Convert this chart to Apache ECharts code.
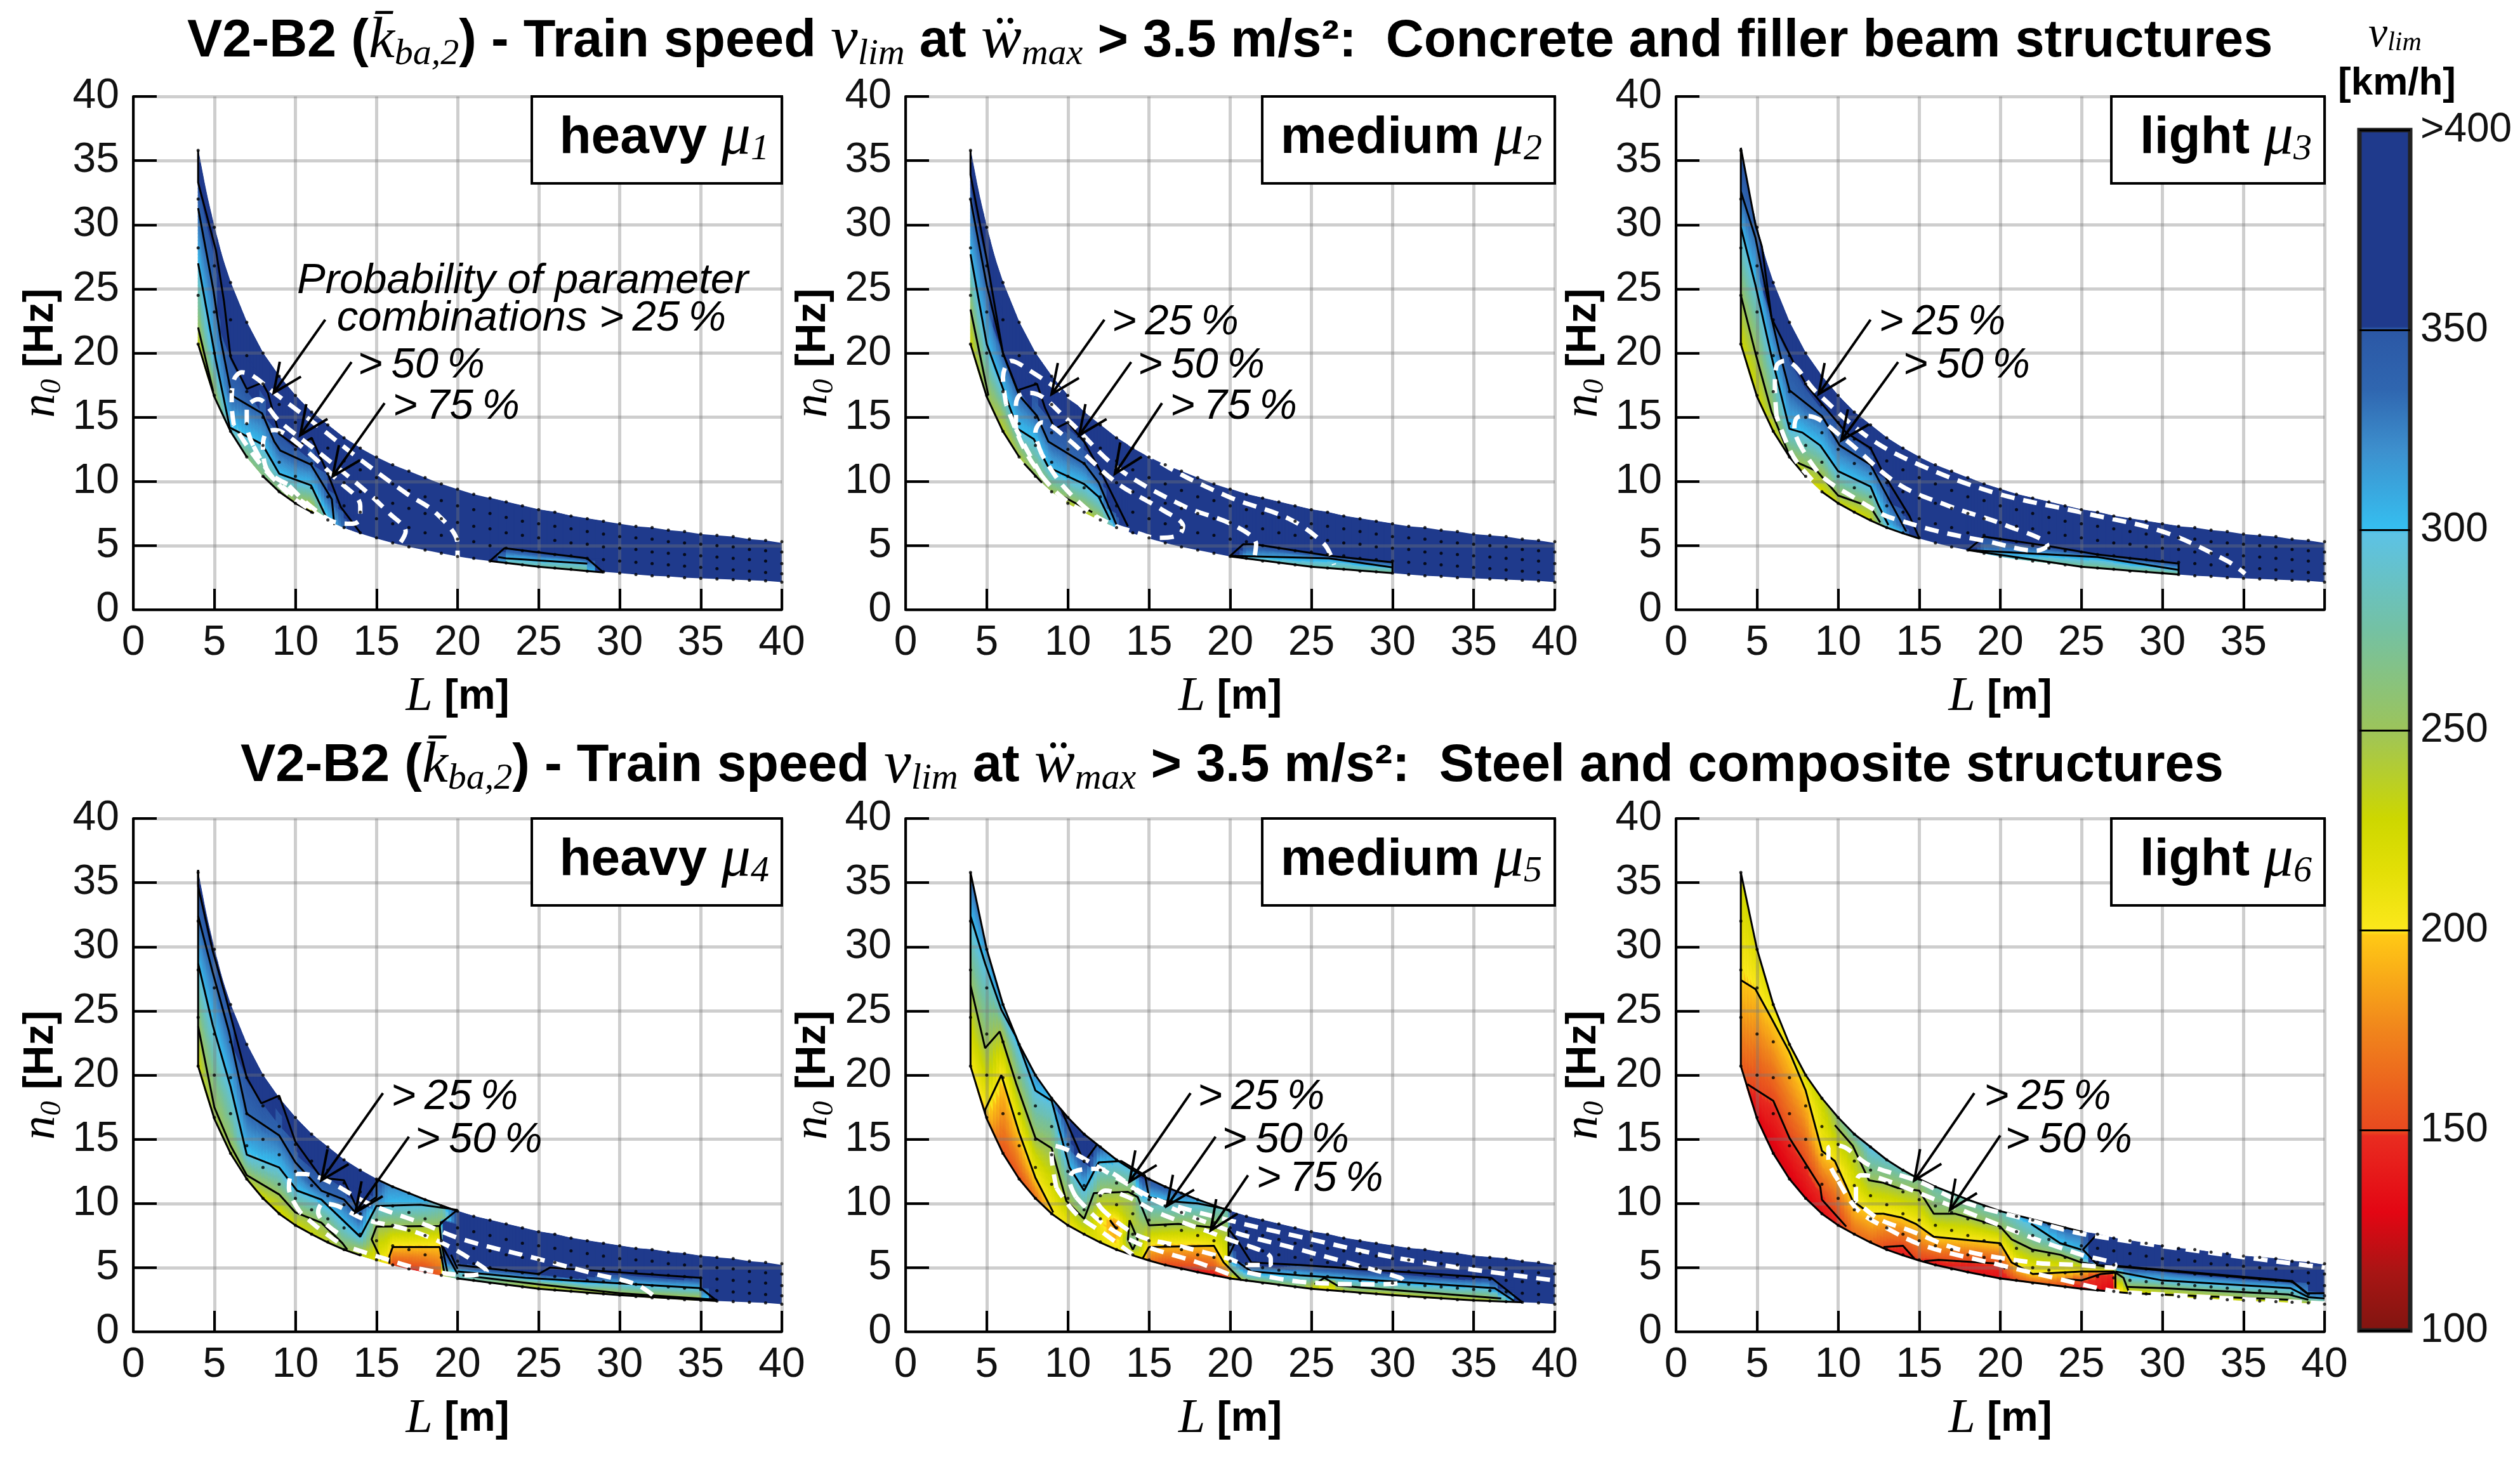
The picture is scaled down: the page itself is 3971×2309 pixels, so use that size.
<!DOCTYPE html>
<html><head><meta charset="utf-8">
<style>html,body{margin:0;padding:0;background:#fff}#c{width:3971px;height:2309px}</style>
<script src="https://cdn.jsdelivr.net/npm/echarts@6/dist/echarts.min.js"></script>
</head><body><div id="c"></div>
<script>
// ---------- scale and axis labels ----------
const xTicks=[0,5,10,15,20,25,30,35,40];
const yTicks=[0,5,10,15,20,25,30,35,40];
const cbValues=[100,115,130,149,150,175,199,200,215,228,249,250,275,299,300,320,335,350,350.5,400];
const cbColors=['#7f1510','#a81514','#e30613','#e92c20','#e8481f','#f0841c','#ffc915','#fce81c','#e3df06','#cdd700','#a0c556','#9cc45a','#74c1a3','#5cc2e5','#35bff0','#3d8fcd','#2f66b0','#2b57a5','#1f3a8c','#1f3a8c'];
// ---------- limits of the plotted band ----------
const curveL=[4,4.5,5,5.5,6,7,8,9,10,11,12,13,14,15,16,17,18,19,20,21,22,23,24,25,26,27,28,29,30,31,32,33,34,35,36,37,38,39,40];
const curveUpper=[35.8,32.5,29.8,27.4,25.5,22.4,20,18.2,16.7,15.4,14.4,13.4,12.6,11.9,11.3,10.8,10.3,9.8,9.4,9,8.7,8.4,8.1,7.8,7.6,7.3,7.1,6.9,6.7,6.5,6.4,6.2,6.1,5.9,5.8,5.7,5.5,5.4,5.2];
const curveLower=[20.7,18.4,16.6,15.1,13.9,11.9,10.4,9.2,8.3,7.6,6.95,6.4,5.95,5.55,5.2,4.9,4.65,4.4,4.15,3.95,3.8,3.65,3.5,3.35,3.25,3.15,3,2.95,2.85,2.75,2.65,2.6,2.5,2.45,2.4,2.35,2.3,2.25,2.15];
// ---------- black grid dots: [L, n0, n0, ...] ----------
const dots=[[4,35.8,32,28.2,24.5,20.7],[5,29.8,26.8,23.2,20,16.7],[6,25.5,22.6,19.8,17,13.9],[7,22.4,19.8,17,14.5,11.9],[8,20,17.6,15,12.8,10.4],[9,18.2,16,13.8,11.5,9.2],[10,16.7,14.6,12.5,10.4,8.3],[11,15.4,13.3,11.4,9.5,7.6],[12,14.4,12.6,10.6,8.8,7],[13,13.4,11.6,9.9,8.1,6.4],[14,12.6,10.9,9.2,7.6,6],[15,11.9,10.3,8.7,7.1,5.6],[16,11.3,9.8,8.3,6.7,5.2],[17,10.8,9.3,7.9,6.4,4.9],[18,10.3,8.8,7.5,6,4.65],[19,9.8,8.5,7.1,5.8,4.4],[20,9.4,8.1,6.8,5.5,4.15],[21,9,7.8,6.5,5.3,4],[22,8.7,7.5,6.3,5,3.8],[23,8.4,7.2,6,4.8,3.65],[24,8.1,6.9,5.8,4.6,3.5],[25,7.8,6.7,5.6,4.5,3.35],[26,7.6,6.5,5.4,4.3,3.25],[27,7.3,6.3,5.2,4.2,3.15],[28,7.1,6.1,5.1,4,3],[29,6.9,5.9,4.9,3.9,2.95],[30,6.7,5.7,4.8,3.8,2.85],[31,6.5,5.6,4.7,3.7,2.75],[32,6.4,5.5,4.5,3.6,2.65],[33,6.2,5.3,4.4,3.5,2.6],[34,6.1,5.2,4.3,3.4,2.5],[35,5.9,5.1,4.2,3.3,2.45],[36,5.8,5,4.1,3.2,2.4],[37,5.7,4.9,4,3.1,2.35],[38,5.5,4.7,3.9,3,2.3],[39,5.4,4.6,3.8,2.9,2.25],[40,5.3,4.5,3.6,2.8,2.15]];
// ---------- speed field per panel: [L, n0,v, n0,v, ...] read across the band ----------
const field1=[[4,20.7,225,22,250,27,300,31.3,335,33.3,352],[5,16.6,245,17,250,19.4,300,25,335,28,352],[6,13.9,250,14.2,300,16.7,335,19.7,352],[7,11.9,262,13.6,300,15.9,335,17.2,352],[8,10.4,262,12.8,300,15.3,335,17.7,352],[9,9.2,255,10.6,300,12.4,335,13.7,352],[10,8.3,245,10,300,11.7,335,12.7,352],[11,7.6,225,9.7,300,11.3,335,13.4,352],[12,6.95,250,7.3,300,8.7,335,10.6,352],[12.5,6.65,310,9,352],[13,6.4,335,7.7,352],[14,5.95,352],[14.2,5.8,400],[21.9,3.8,400],[22,3.8,352],[23,3.6,280,4,300,4.8,352],[28,2.95,265,3.6,300,4,352],[29,2.9,352],[29.1,2.9,400],[40,2.15,400]];
const field2=[[4,20.7,225,23.4,250,27.7,300,32,335,33.9,352],[5,16.6,245,16.9,250,20.7,300,25.3,335,27.3,352],[6,13.9,235,15,250,17.2,300,19.8,335,20.1,352],[7,11.9,240,14,300,16.7,335,17.2,352],[8,10.4,250,13.3,300,15.2,335,17.6,352],[9,9.2,250,10.8,300,12.9,335,14.6,352],[10,8.3,235,8.6,250,10.2,300,12.1,335,14.6,352],[11,7.6,228,7.9,250,9.8,300,11.4,335,13.1,352],[12,6.95,245,8.6,300,9.9,335,10.8,352],[13,6.4,300,6.6,320,7.5,352],[13.7,6,352],[14,5.95,400],[19.9,4.2,400],[20,4.15,300,4.2,352],[21,3.95,280,4.4,320,5.1,352],[26,3.25,275,4,310,4.25,352],[30,2.85,265,3.3,300,3.7,352],[30.05,2.85,400],[40,2.15,400]];
const field3=[[4,20.7,225,24.5,250,29.8,300,32.6,335,36,352],[5,16.6,225,20,250,25.3,300,29,335,29.9,352],[6,13.9,225,15.2,250,19.3,300,22.2,335,22.5,352],[7,11.9,245,12,250,14.1,300,17.1,335,19.9,352],[8,10.4,222,11.2,250,13.7,300,15.8,335,17.3,352],[9,9.2,222,10.7,250,12.7,300,15.1,335,16,352],[10,8.3,225,8.9,250,10.8,300,12.9,335,14.7,352],[11,7.6,225,8.5,250,10.2,300,12.1,335,13.3,352],[12,6.95,225,8,250,9.6,300,11.3,335,12.6,352],[13,6.4,250,6.6,300,8.8,335,10.1,352],[14,5.95,300,6.5,335,7.9,352],[15,5.55,352],[15.1,5.5,400],[17.9,4.7,400],[18,4.65,335,4.7,352],[19,4.4,300,4.9,335,5.7,352],[23,3.65,270,4.3,310,4.95,352],[26,3.25,265,4.1,310,4.3,352],[31,2.75,262,3.1,300,3.6,352],[31.05,2.75,400],[40,2.15,400]];
const field4=[[4,20.7,225,23.8,250,28.7,300,32.4,335,34.7,352],[5,16.6,245,17.5,250,23.9,300,28,335,29.7,352],[6,13.9,240,14.5,250,19.1,300,23,335,25.3,352],[7,11.9,235,12.2,250,13.8,300,17,335,19.8,352],[8,10.4,225,11.4,250,13.3,300,16,335,17.8,352],[9,9.2,220,10.7,250,12.8,300,15.3,335,18.2,352],[10,8.3,225,9.3,250,11,300,13.2,335,14.8,352],[11,7.6,228,8.8,250,10.5,300,11.5,335,12.8,352],[12,6.95,235,8,250,9.7,300,10.8,335,12,352],[13,6.4,250,8.5,300,10.2,335,11.8,352],[14,5.95,235,6.6,260,7.4,300,8.7,335,10,352],[15,5.55,215,6.5,225,8.2,250,9.8,300,10.5,335,11.9,352],[15.7,5.3,205,6,205,8.3,250,9.9,300,11.3,320],[16,5.2,150,6.6,195,8.3,250,9.9,300,11.3,320],[17,4.9,145,6.6,195,8.3,250,9.9,300,10.8,315],[18,4.65,145,6.6,195,8.3,250,9.9,300,10.3,310],[19,4.4,160,6.9,200,8.25,250,9.8,285],[19.1,4.35,225,4.6,250,5.2,300,6,352,8.7,352,8.8,260,9.8,285],[20,4.15,280,4.7,300,5.2,352,9.4,352],[25,3.35,235,3.7,250,4.05,300,4.5,352],[30,2.85,230,3,250,3.75,300,4.5,352],[35,2.45,225,2.7,250,3.4,300,4.2,352],[35.05,2.45,240,2.7,265,3.4,320,3.5,352],[36,2.4,352],[36.1,2.4,400],[40,2.15,400]];
const field5=[[4,20.7,205,27,250,32.4,300,35.8,335],[5,16.6,180,17.3,200,22.1,250,28.7,300,29.8,320],[6,13.9,155,20,200,23.4,250,25,300,25.5,320],[7,11.9,155,15.5,200,19,250,22.2,300],[8,10.4,165,12,200,15.1,250,18.8,300,20,320],[9,9.2,195,9.3,200,14.3,250,18,300,18.2,305],[10,8.3,205,10.6,250,13.2,300,16.2,352],[11,7.6,215,8.8,250,11,300,13.2,352],[12,6.95,215,8.5,205,10.8,250,13.2,300,14.4,340],[13,6.4,205,8.3,175,9.5,225,10.9,250,13.3,300],[14,5.95,215,7,280,8.5,240,10.7,250,12.6,300],[14.6,5.7,215,8.3,250,10.5,300,11.9,350],[15,5.55,170,6.6,195,8.3,250,10.5,300,11.9,350],[16,5.2,150,6.7,195,8.4,250,10.2,300,11.3,345],[17,4.9,145,6.7,195,8.4,250,10.1,300,10.8,335],[18,4.65,140,6.7,195,8.4,250,10,300,10.3,320],[19,4.4,140,6.7,200,8.3,250,9.8,290],[19.9,4.2,145,5.4,215,8,250,9.4,280],[20,4.15,160,4.4,230,5.5,300,7,352,9.4,352],[21,3.95,245,4.5,300,5.3,352],[24.3,3.45,250,3.9,280,4.4,300,5.2,352],[25,3.35,225,3.7,250,4.3,300,5.1,352],[26,3.25,195,4,240,4.2,300,5,352],[27,3.15,240,3.6,270,4.1,300,4.9,352],[30,2.85,225,3.1,250,3.8,300,4.6,352],[36,2.4,225,2.6,250,3.4,300,4.2,352],[37.5,2.32,230,2.4,300,3,352],[38,2.3,352],[38.1,2.3,400],[40,2.15,400]];
const field6=[[4,20.7,160,27.4,200,35.8,228],[5,16.6,130,19,150,26.7,200,29.8,220],[6,13.9,125,18,150,24.4,200,25.5,210],[7,11.9,125,15.1,150,21.8,200,22.4,205],[8,10.4,130,13,150,18.8,200,20,220],[9,9.2,135,10.8,150,14.1,200,18.2,230],[10,8.3,145,9,150,13,200,16.1,250,16.7,262],[11,7.6,165,10.1,200,14.5,250,15.4,285],[12,6.95,165,9.2,200,11.8,250,14.4,300],[13,6.4,145,6.6,150,9.2,200,11.6,250,13.4,290],[14,5.95,140,6.7,150,8.9,200,11.2,250,12.6,285],[15,5.55,145,5.7,150,8.3,200,11,250,11.9,270],[16,5.2,135,5.6,150,7.4,200,9.2,250,11.3,280],[18,4.65,135,5.5,150,7.2,200,9,250,10.3,280],[20,4.15,135,5.3,150,6.9,200,8.2,250,9.4,285],[21,3.95,150,5.2,200,7,250,9,295],[22,3.8,160,4.5,200,6.4,250,8.4,300,8.7,330],[24,3.5,150,4.6,200,5.9,250,6.8,300,8,335],[25,3.35,140,4,150,4.7,200,5.4,250,6.4,300,7.8,335],[25.9,3.25,140,4.5,150,4.7,200,5.2,250,5.3,300,5.4,352],[27,3.15,125,4.6,150,4.7,200,5,250,5.1,352],[27.2,3.1,190,3.5,200,4.5,250,4.9,300,5.1,352],[28,3,210,3.2,225,3.5,250,4.3,300,5,352],[30,2.85,225,3.4,250,4,300,4.6,330,4.7,352],[38,2.3,225,2.5,250,3.4,300,3.8,335,3.9,352],[39,2.25,240,2.7,300,3,335],[40,2.15,245,2.6,300,3,340,3.05,352]];
// ---------- black contour lines per panel ----------
const lines1=[[[4,35.8],[4,33.3],[5.1,28],[5.6,24],[6,19.7],[7,17.2],[7.95,17.7],[8.3,16.9],[9,13.7],[10.1,12.7],[11,13.4],[12,10.6],[12.8,8],[14,6]],[[4,31.3],[4.93,25],[5.4,21],[6.07,16.7],[7.95,15.3],[8.7,13.1],[9.07,12.4],[10.96,11.3],[12.25,8.6],[12.4,6.6]],[[4,27],[5.1,19.4],[5.95,14.2],[7.95,12.9],[9,10.6],[10.96,9.7],[11.6,8],[11.9,7.2]],[[4,22],[4.93,17]],[[4,20.7],[5,16.6],[6,13.9],[7,11.9]],[[8,10.4],[9,9.2],[10,8.3],[11,7.6],[11.5,7.3]],[[22,3.8],[22.9,4.8],[28,4],[29,2.9]],[[22.5,4.1],[23,4],[28,3.6]],[[22,3.8],[25,3.35],[29,2.9]]];
const lines2=[[[4,35.8],[4,33.9],[5,27.3],[6,20],[6.9,17.1],[8.1,17.6],[8.6,15.7],[9.2,14.1],[10,14.6],[11,13.1],[12.1,10.6],[13.7,6.5]],[[4,32],[5,25.3],[6,20],[7,16.7],[8.1,15.1],[8.8,13.1],[11,11.4],[11.9,9.9],[13,6.6]],[[4,27.7],[5,20.7],[6.9,14.1],[7.9,13.3],[8.8,11.1],[11,9.8],[11.9,8.8],[12.6,7]],[[4,23.4],[5.1,16.7]],[[7.3,11.4],[8.4,9.9]],[[9.3,9.1],[11.5,7.6]],[[4,20.7],[5,16.6],[6,13.9],[7,11.9]],[[20,4.2],[20.8,5.1],[21.5,5.1],[26.1,4.2],[30,3.7],[30,2.85]],[[20,4.2],[26.1,4],[30,3.3]],[[20,4.15],[25,3.35],[30,2.85]]];
const lines3=[[[4,36],[4.9,30],[5.3,28.3],[5.9,22.7],[7.2,19.4],[8.1,17.4],[10.5,13.8],[12,12.6],[12.8,10.6],[14.4,7.3],[15,5.6]],[[4,32.6],[4.9,29],[5.9,22.7],[6.4,20],[7,17.1],[9,15.1],[10.1,12.8],[12,11.3],[12.8,9.4],[14.2,6.1]],[[4,29.8],[4.9,25.3],[5.9,19.7],[7,14.1],[7.8,13.8],[8.9,12.8],[10,10.8],[12,9.6],[12.5,8.1],[13.1,6.6]],[[4,24.5],[4.9,20],[5.9,15.4],[7,12],[7.6,11.4],[8.7,10.8],[10,8.9],[12,8],[12.6,6.8]],[[4,36],[4,20.7],[5,16.6],[6,13.9],[7,11.9],[8,10.4]],[[9,9.2],[10,8.3],[11,7.6],[12,6.95],[13,6.4],[14,5.95],[15,5.55]],[[18,4.65],[19,5.7],[22.8,5],[26,4.3],[31,3.6],[31,2.75]],[[18,4.65],[26,4.1],[31,3.1]],[[18,4.65],[25,3.35],[31,2.75]]];
const lines4=[[[4,36],[4,34.7],[4.9,29.7],[5.7,26.1],[7,19.8],[7.9,17.8],[9,18.4],[10,14.8],[11.6,12],[13,11.8],[13.85,9.5],[15,10.5],[15,11.9]],[[4,32.4],[4.9,28],[5.9,23.4],[7,17],[9,15.3],[10,13.2],[11.6,11],[13,10.3],[13.7,9.3]],[[4,28.7],[4.9,23.9],[6,19.1],[7,13.8],[9,12.8],[10.1,11],[11.6,10.3],[14,7.4],[15,9.8],[17.7,9.9],[20,9.5],[19,8.5],[18.9,8.25],[15,8.2],[14.7,7.2],[15.3,5.6]],[[4,23.8],[5,17.5],[6,14.5],[7,12.2],[9,10.7],[10,9.3],[11.6,8.5],[12.9,6.9],[13.2,6.4]],[[15.8,5.3],[15.8,5.9],[16,6.6],[18.9,6.6],[19.2,4.5]],[[18.9,8.25],[19,6.9],[19.4,4.5]],[[19.1,6.6],[20,4.5]],[[19.6,6],[20,4.9]],[[4,36],[4,20.7],[5,16.6],[6,13.9],[7,11.9],[8,10.4],[9,9.2],[10,8.3],[11,7.6],[12,6.95],[13,6.4],[14,5.95]],[[20,5.2],[25,4.5],[25.7,5],[35,4.2],[35,3.4],[36,2.4]],[[20,4.7],[24.2,4.2],[35,3.4]],[[20.3,4.4],[25,3.7],[30,3],[36,2.5]],[[15,11.9],[16,11.3],[18,10.3],[20,9.4]],[[20,4.15],[25,3.35],[30,2.85],[36,2.4]]];
const lines5=[[[4,20.7],[4,35.8],[5,29.8],[6,25.5],[7,22.4],[8,20],[9,18.2],[10,16.7],[11,15.4],[12,14.4],[13,13.4],[14,12.6],[15,11.9],[16,11.3],[18,10.3],[20,9.4]],[[4,32.4],[4.9,28.7],[5.9,25.1],[6.8,23],[8,18.8],[9,18],[10.1,12.8],[11,11],[11.9,13.2],[13.3,13.3],[14.75,12.2],[15,10.5],[16,10.2],[18,10],[20,9.5]],[[9.6,17.3],[11,13.2],[11.8,14.6]],[[4,27],[4.9,22.1],[5.8,23.4],[6.8,19.4],[8,15.1],[9,14.3],[9.9,10.2],[11,8.8],[11.6,10.8],[13.7,10.9],[14.3,10.5],[15,8.3],[16.8,8.4],[19.9,8],[19.9,5.9],[20.4,7.2],[19.9,8]],[[4.9,17],[4.9,17.3],[5.9,20],[7,15.5],[8,12],[9.1,9.3]],[[12.6,8.7],[13,8],[12.7,8.5],[12.6,8.7]],[[13.8,8.7],[14.3,7.2],[14,6.4],[13.7,7.2],[13.8,8.7]],[[14.6,5.7],[15,6.6],[19,6.7],[19.6,5.4],[20.7,4]],[[20.4,7.2],[21.3,5.4],[24.3,5.2],[36.1,4.2],[38,2.3]],[[20.4,5.5],[21.3,4.7],[24.3,4.4],[36.3,3.4],[37.5,2.4]],[[25.2,3.7],[25.8,4.2],[26.6,3.6],[36.7,2.6]],[[4,20.7],[5,16.6],[6,13.9],[7,11.9],[8,10.4],[9,9.2],[10,8.3],[11,7.6],[12,6.95],[13,6.4],[14,5.95],[15,5.55],[16,5.2],[18,4.65],[20,4.15],[25,3.35],[30,2.85],[35,2.45],[38,2.3]]];
const lines6=[[[4,20.7],[4,35.8],[5,29.8],[6,25.5],[7,22.4],[8,20],[9,18.2],[10,16.7],[11,15.4],[12,14.4],[13,13.4],[14,12.6],[15,11.9],[16,11.3],[18,10.3],[20,9.4],[25,7.8]],[[4,27.4],[4.9,26.7],[5.9,24.4],[7,21.8],[8,18.8],[9,14.1],[9.8,13.3],[10.9,10.2],[12,9.2],[12.8,9.2],[13.9,8.9],[14.8,8.4],[15.9,7.4],[20,6.9],[20.7,5.4],[22,4.5],[25,4.7],[26.2,4.7],[27,4.7],[27.6,4.2],[27.9,3.2]],[[4.4,19.3],[6,18],[7,15.1],[8.9,11.3],[9,10.3],[10.5,8.2]],[[12.8,6.6],[14,6.7],[14.7,5.7]],[[15.3,5.5],[16.2,5.6],[20,5.3],[20.3,4.9]],[[24,4.1],[25,4],[26.2,4.5],[27.1,4.6],[27.1,3.4]],[[9.8,16.1],[10.9,14.5],[11.9,11.8],[12.8,11.6],[13.7,11.2],[15,11],[15.9,9.2],[17.2,9.2],[20,8.2],[20.7,7.2],[22,6.4],[23.7,6],[25,5.4],[26.8,5]],[[21.9,8.4],[23.7,6.9],[25,6.4]],[[25.9,7.5],[25.1,6.4],[26,5.2],[27,5.1],[38,3.9],[38.9,3],[40,3]],[[27,5.15],[38,3.95],[38.9,3.05]],[[27.1,4.7],[30,4],[37.9,3.4],[39,2.7],[40,2.6]],[[27.8,3.5],[30,3.4],[37.8,2.9],[39,2.5]],[[28,3],[37.8,2.5]],[[4,20.7],[5,16.6],[6,13.9],[7,11.9],[8,10.4],[9,9.2],[10,8.3],[11,7.6],[12,6.95],[13,6.4],[14,5.95],[15,5.55],[16,5.2],[18,4.65],[20,4.15],[25,3.35],[28,3]]];
// ---------- white dashed probability contours ----------
const white1=[[[6.2,14.4],[6.07,16],[6.2,17.9],[6.7,18.5],[7.4,18.2],[8.7,16.9],[11.3,14.4],[13.9,11.8],[16.8,9.1],[18.7,7.5],[20,5.1],[20,4.1]],[[11,7.9],[9,9.8],[8,11.1],[7,12.8],[6.2,14.4]],[[7.4,12.8],[7,14.4],[7,15.7],[7.7,16.4],[9,14.7],[11.3,12.4],[14.2,9.4],[15.8,7.5],[16.8,6.1],[16.4,5.1]],[[11.9,7],[10.9,7.8],[9.5,9.1],[8.3,10.8],[7.4,12.8]],[[9.5,9.8],[8.3,10.8],[8,12.8],[8.2,13.8],[8.7,14],[10,13.1],[12.6,10.1],[14,8.1],[14,7.1],[13.5,6.7],[12.5,6.8],[10.9,8.1],[9.5,9.8]]];
const white2=[[[6.2,16],[6,18.1],[6.5,19.4],[7.7,18.6],[11.8,15.1],[15.8,11.4],[19.9,8.8],[23.6,7.1],[25.8,5.1],[26.4,3.5]],[[13.7,6.1],[11.8,7.1],[9.6,8.8],[8,11.1],[7.1,13.1],[6.2,16]],[[6.8,14.1],[6.8,16],[7.1,16.8],[7.7,16.9],[9.9,14.9],[13,11.1],[17.1,8.1],[20.2,6.6],[21.6,5.1],[21.5,4.1]],[[8.4,10.4],[7.5,12.4],[6.8,14.1]],[[8.4,12.1],[8,13.8],[8.4,14.6],[9.9,13.4],[13,9.9],[15.8,7.8],[17.1,6.5],[16.8,5.8],[15.5,5.6],[14,6.1],[13,6.5],[11.5,7.5],[9.6,9.8],[8.4,12.1]]];
const white3=[[[6.2,15.1],[6.1,17.4],[6.2,19],[6.7,19.4],[8.7,16.9],[11.9,13.4],[15,11.3],[19.7,9.1],[25.3,7.5],[30,6.1],[34,3.8],[35.1,2.8]],[[8.4,10.1],[7.2,12],[6.2,15.1]],[[7.8,12.5],[7.3,14.1],[7.5,15],[8.1,15.1],[10.3,13.4],[13.7,9.8],[16.8,8.1],[20.3,6.6],[22.9,5],[22.2,4.6],[19.3,5.3],[16.2,6.1],[13.7,7],[12.8,7.4],[10.9,8.8],[9,10.4],[7.8,12.5]]];
const white4=[[[10.3,9.3],[9.6,11.2],[9.8,12.3],[10.4,12.3],[11.9,11.8],[14.5,10],[17.7,8.5],[20.3,7.2],[24.9,5.7],[28.5,4.5],[31,3.7],[32.2,2.7]],[[12.6,7],[11.3,8.2],[10.3,9.3]],[[12.6,7.7],[11.4,9.3],[11.7,10],[12.6,9.8],[14.2,8.8],[17.1,7.9],[19.4,6.7],[21.6,5],[21.8,4.7],[20.7,4.4],[17.7,4.9],[15.5,5.7],[13.5,6.5]]];
const white5=[[[9.3,11.2],[9,13.8],[9.1,14.5],[10.1,14.1],[13,12],[15.5,10.3],[19.9,8.7],[24.3,7.4],[30.5,5.7],[40,4]],[[14,6],[12.4,7.5],[10.5,9.2],[9.3,11.2]],[[10.5,10.5],[10.1,11.8],[10.4,12.5],[11.8,12.7],[14.9,10.5],[19.9,7.9],[24.3,6.4],[30.5,4.2],[30.7,3.9],[29.2,3.7],[24.3,3.9],[20.8,4.7]],[[19.9,4.5],[18,5.4],[14.3,6.9],[12.1,8.5],[10.5,10.5]],[[12.4,9.2],[11.8,10.2],[12.3,11],[13.7,10.5],[15.5,9.3],[19.9,7.2],[22.5,5.7],[22.5,5.2],[21.1,5.2],[19.9,5.7],[16.8,6.7],[14.3,7.5],[12.4,9.2]]];
const white6=[[[10,11.8],[9.4,13.5],[9.4,14.3],[10,14.5],[11.9,13],[15,11.7],[17.5,10.2],[21.8,8.7],[25.6,7.5],[40,5]],[[40,2.2],[28,3.05],[26.8,3.2],[25,3.7],[20,5.2],[15.3,6.7],[13.1,8],[11.2,9.5],[10,11.8]],[[11.1,10.2],[11.1,11.5],[11.4,12.2],[12.5,12],[16.2,10.2],[21.8,7.4],[25,6],[27.1,5.2],[27,5],[25,5.2],[22,5.4],[17.5,6.4],[14.4,7.9],[12.5,8.8],[11.1,10.2]]];
// ---------- arrows [tail L, tail n0, head L, head n0] and italic notes ----------
const arrows1=[[11.84,22.6,8.66,16.9],[13.46,19.3,10.3,13.6],[15.5,16.1,12.3,10.4]];
const arrows2=[[12.25,22.6,9,16.8],[13.9,19.3,10.7,13.6],[15.8,16.1,12.9,10.6]];
const arrows3=[[12,22.6,8.8,16.8],[13.7,19.3,10.2,13.2]];
const arrows4=[[15.4,18.6,11.6,11.8],[17,15.2,13.7,9.3]];
const arrows5=[[17.56,18.6,13.8,11.7],[19.1,15.2,16.1,9.8],[21.1,12.2,18.8,7.9]];
const arrows6=[[18.4,18.6,14.7,11.8],[20,15.3,16.9,9.5]];
const notes1=[[10.1,25.6,'Probability of parameter'],[12.55,22.7,'combinations >\u200925\u2009%'],[13.85,19,'>\u200950\u2009%'],[16,15.8,'>\u200975\u2009%']];
const notes2=[[12.7,22.4,'>\u200925\u2009%'],[14.3,19,'>\u200950\u2009%'],[16.3,15.8,'>\u200975\u2009%']];
const notes3=[[12.5,22.4,'>\u200925\u2009%'],[14,19,'>\u200950\u2009%']];
const notes4=[[15.9,18.3,'>\u200925\u2009%'],[17.4,14.9,'>\u200950\u2009%']];
const notes5=[[18,18.3,'>\u200925\u2009%'],[19.5,14.9,'>\u200950\u2009%'],[21.6,11.9,'>\u200975\u2009%']];
const notes6=[[19,18.3,'>\u200925\u2009%'],[20.3,14.9,'>\u200950\u2009%']];
const panelWords=['heavy','medium','light','heavy','medium','light'];
const panelIndex=['1','2','3','4','5','6'];
// ---------- layout ----------
const lefts=[210,1427,2641], widths=[1022,1023,1022], tops=[152,1290], height=809;
const boxWidths=[394,461,336];
const SANS='"Liberation Sans"', SERIF='"Liberation Serif"';
const fields=[field1,field2,field3,field4,field5,field6];
const linesAll=[lines1,lines2,lines3,lines4,lines5,lines6];
const whiteAll=[white1,white2,white3,white4,white5,white6];
const arrowsAll=[arrows1,arrows2,arrows3,arrows4,arrows5,arrows6];
const notesAll=[notes1,notes2,notes3,notes4,notes5,notes6];

function hex(c){return [1,3,5].map(i=>parseInt(c.substr(i,2),16));}
const cbRGB=cbColors.map(hex);
function colorOf(v){
  if(v<=cbValues[0])return cbColors[0];
  for(let i=1;i<cbValues.length;i++){
    if(v<=cbValues[i]){
      const f=(v-cbValues[i-1])/(cbValues[i]-cbValues[i-1]),a=cbRGB[i-1],b=cbRGB[i];
      return 'rgb('+a.map((x,k)=>Math.round(x+(b[k]-x)*f)).join(',')+')';
    }
  }
  return cbColors[cbColors.length-1];
}
function bound(arr,L){
  if(L<=curveL[0])return arr[0];
  for(let i=1;i<curveL.length;i++){
    if(L<=curveL[i]){const f=(L-curveL[i-1])/(curveL[i]-curveL[i-1]);return arr[i-1]+(arr[i]-arr[i-1])*f;}
  }
  return arr[arr.length-1];
}
function colValue(col,t){
  const lo=bound(curveLower,col[0]),up=bound(curveUpper,col[0]),n=lo+t*(up-lo);
  if(n<=col[1])return col[2];
  for(let i=3;i<col.length;i+=2){
    if(n<=col[i]){const f=(n-col[i-2])/((col[i]-col[i-2])||1e-6);return col[i-1]+(col[i+1]-col[i-1])*f;}
  }
  return col[col.length-1]>=340?400:col[col.length-1];
}
const NT=56;
function fieldRender(field){
  return function(params,api){
    const k=params.dataIndex,a=field[k],b=field[k+1];
    if(!b)return null;
    const shade=(c)=>{let m=1e9;for(let i=2;i<c.length;i+=2)m=Math.min(m,c[i]);return m;};
    if(shade(a)>=352&&shade(b)>=352)return null;
    const va=[],vb=[];
    for(let j=0;j<NT;j++){va.push(colValue(a,(j+.5)/NT));vb.push(colValue(b,(j+.5)/NT));}
    const stepL=a[0]<22?0.2:0.5;
    const nL=Math.max(1,Math.ceil((b[0]-a[0])/stepL));
    const kids=[];
    for(let i=0;i<nL;i++){
      const f=(i+.5)/nL,L0=a[0]+(b[0]-a[0])*i/nL,L1=a[0]+(b[0]-a[0])*(i+1)/nL;
      const lo0=bound(curveLower,L0),up0=bound(curveUpper,L0),lo1=bound(curveLower,L1),up1=bound(curveUpper,L1);
      let start=0,key=null;
      const flush=(end)=>{
        if(key===null)return;
        const t0=start/NT,t1=end/NT;
        kids.push({type:'polygon',shape:{points:[
          api.coord([L0,lo0+t0*(up0-lo0)]),api.coord([L1,lo1+t0*(up1-lo1)]),
          api.coord([L1,lo1+t1*(up1-lo1)]),api.coord([L0,lo0+t1*(up0-lo0)])]},
          style:{fill:colorOf(key),stroke:colorOf(key),lineWidth:1}});
      };
      for(let j=0;j<NT;j++){
        const v=Math.round((va[j]+(vb[j]-va[j])*f)/2)*2;
        if(v!==key){flush(j);start=j;key=v;}
      }
      flush(NT);
    }
    return {type:'group',children:kids};
  };
}
function bandRender(params,api){
  const pts=[];
  curveL.forEach((L,i)=>pts.push(api.coord([L,curveUpper[i]])));
  for(let i=curveL.length-1;i>=0;i--)pts.push(api.coord([curveL[i],curveLower[i]]));
  return {type:'polygon',shape:{points:pts},style:{fill:'#1f3a8c'}};
}
function arrowRender(params,api){
  const p=api.coord([api.value(0),api.value(1)]),q=api.coord([api.value(2),api.value(3)]);
  const ang=Math.atan2(p[1]-q[1],p[0]-q[0]),h=50,w=0.42;
  const s={stroke:'#000',lineWidth:4,fill:null};
  return {type:'group',children:[
    {type:'line',shape:{x1:p[0],y1:p[1],x2:q[0],y2:q[1]},style:s},
    {type:'polyline',shape:{points:[[q[0]+h*Math.cos(ang+w),q[1]+h*Math.sin(ang+w)],q,[q[0]+h*Math.cos(ang-w),q[1]+h*Math.sin(ang-w)]]},style:s}
  ]};
}
function noteRender(notes){
  return function(params,api){
    const n=notes[params.dataIndex];
    const p=api.coord([n[0],n[1]]);
    return {type:'text',x:p[0],y:p[1],style:{text:n[2],font:'italic 67px '+SANS,fill:'#000',textAlign:'left',textVerticalAlign:'middle'}};
  };
}

const grids=[],xAxes=[],yAxes=[],series=[],graphics=[];
const axisRich={i:{fontFamily:SERIF,fontStyle:'italic',fontSize:76,color:'#000'},s:{fontFamily:SERIF,fontStyle:'italic',fontSize:46,color:'#000',padding:[36,0,0,0]},b:{fontFamily:SANS,fontWeight:'bold',fontSize:66,color:'#000'}};
for(let p=0;p<6;p++){
  const col=p%3,row=p<3?0:1;
  grids.push({left:lefts[col],top:tops[row],width:widths[col],height:height});
  const isLight3=p===2;
  xAxes.push({gridIndex:p,type:'value',min:0,max:40,interval:5,z:3,name:'{i|L}{b| [m]}',nameLocation:'middle',nameGap:100,nameTextStyle:{rich:axisRich},
    axisLine:{onZero:false,lineStyle:{color:'#000',width:4}},axisTick:{inside:true,length:33,lineStyle:{color:'#000',width:4}},
    axisLabel:{margin:20,fontFamily:SANS,fontSize:66,color:'#111',hideOverlap:false,formatter:v=>(isLight3&&v===40)?'':String(xTicks[v/5])},
    splitLine:{show:true,lineStyle:{color:'rgba(120,120,120,0.36)',width:5}}});
  yAxes.push({gridIndex:p,type:'value',min:0,max:40,interval:5,z:3,name:'{i|n}{s|0}{b| [Hz]}',nameLocation:'middle',nameRotate:90,nameGap:104,nameTextStyle:{rich:axisRich},
    axisLine:{onZero:false,lineStyle:{color:'#000',width:4}},axisTick:{inside:true,length:37,lineStyle:{color:'#000',width:4}},
    axisLabel:{margin:22,fontFamily:SANS,fontSize:66,color:'#111',formatter:v=>String(yTicks[v/5])},
    splitLine:{show:true,lineStyle:{color:'rgba(120,120,120,0.36)',width:5}}});
  const common={xAxisIndex:p,yAxisIndex:p,animation:false,silent:true};
  series.push(Object.assign({type:'custom',z:1,data:[[4,20]],renderItem:bandRender,clip:true,progressive:0},common));
  series.push(Object.assign({type:'custom',z:2,data:fields[p].map(c=>[c[0],c[1]]),renderItem:fieldRender(fields[p]),clip:true,progressive:0},common));
  linesAll[p].forEach(l=>series.push(Object.assign({type:'line',z:4,data:l,symbol:'none',lineStyle:{color:'#000',width:3}},common)));
  whiteAll[p].forEach(l=>series.push(Object.assign({type:'line',z:5,data:l,symbol:'none',smooth:0.35,lineStyle:{color:'#fff',width:7,type:[22,14]}},common)));
  const dotData=[];dots.forEach(d=>{for(let i=1;i<d.length;i++)dotData.push([d[0],d[i]]);});
  series.push(Object.assign({type:'scatter',z:6,data:dotData,symbol:'circle',symbolSize:5,itemStyle:{color:'#000'}},common));
  series.push(Object.assign({type:'custom',z:7,data:arrowsAll[p],renderItem:arrowRender,clip:false,encode:{x:[0,2],y:[1,3]}},common));
  series.push(Object.assign({type:'custom',z:7,data:notesAll[p].map(n=>[n[0],n[1]]),renderItem:noteRender(notesAll[p]),clip:false},common));
  // label box
  const bw=boxWidths[col],bh=137,right=lefts[col]+widths[col];
  graphics.push({type:'rect',z:20,shape:{x:right-bw,y:tops[row],width:bw,height:bh},style:{fill:'#fff',stroke:'#000',lineWidth:4}});
  graphics.push({type:'text',z:21,x:right-20,y:tops[row]+66,style:{text:'{w|'+panelWords[p]+' }{m|\u03bc}{d|'+panelIndex[p]+'}',textAlign:'right',textVerticalAlign:'middle',
    rich:{w:{font:'bold 82px '+SANS,fill:'#000'},m:{font:'italic 92px '+SERIF,fill:'#000'},d:{font:'italic 58px '+SERIF,fill:'#000',padding:[36,0,0,0]}}}});
}
// colour scale panel
grids.push({left:3718,top:205,width:80,height:1892});
xAxes.push({gridIndex:6,type:'value',min:0,max:1,show:false});
yAxes.push({gridIndex:6,type:'value',min:100,max:400,interval:50,position:'right',z:3,
  axisLine:{show:false},axisTick:{show:false},
  axisLabel:{margin:16,fontFamily:SANS,fontSize:64,color:'#111',formatter:v=>v===400?'>400':String(v)},
  splitLine:{show:true,lineStyle:{color:'#000',width:3}}});
series.push({type:'custom',xAxisIndex:6,yAxisIndex:6,z:1,animation:false,silent:true,data:[[0,100]],clip:false,renderItem:function(params,api){
  const a=api.coord([0,400]),b=api.coord([1,100]);
  const stops=cbValues.map((v,i)=>({offset:(400-v)/300,color:cbColors[i]})).reverse();
  return {type:'rect',shape:{x:a[0],y:a[1],width:b[0]-a[0],height:b[1]-a[1]},style:{fill:new echarts.graphic.LinearGradient(0,0,0,1,stops),stroke:'#222',lineWidth:7}};
}});
const titleRich={b:{fontFamily:SANS,fontWeight:'bold',fontSize:83,color:'#000'},
  k:{fontFamily:SERIF,fontStyle:'italic',fontWeight:'normal',fontSize:92,color:'#000'},
  s:{fontFamily:SERIF,fontStyle:'italic',fontWeight:'normal',fontSize:58,color:'#000',padding:[40,0,0,0]},
  v:{fontFamily:SERIF,fontStyle:'italic',fontWeight:'normal',fontSize:96,color:'#000'}};
const head=(t)=>'{b|V2-B2 (}{k|k\u0304}{s|ba,2}{b|) - Train speed }{v|v}{s|lim}{b| at }{v|\u1e85}{s|max}{b| > 3.5 m/s\u00b2:  '+t+'}';
const option={animation:false,backgroundColor:'#fff',
  title:[
    {text:head('Concrete and filler beam structures'),left:290,top:12,textStyle:{fontWeight:'normal',rich:titleRich}},
    {text:head('Steel and composite structures'),left:374,top:1154,textStyle:{fontWeight:'normal',rich:titleRich}},
    {text:'{v|v}{s|lim}',left:3727,top:16,textStyle:{fontWeight:'normal',rich:{v:{fontFamily:SERIF,fontStyle:'italic',fontWeight:'normal',fontSize:68,color:'#000'},s:{fontFamily:SERIF,fontStyle:'italic',fontWeight:'normal',fontSize:42,color:'#000',padding:[26,0,0,0]}}}},
    {text:'[km/h]',left:3679,top:96,textStyle:{fontFamily:SANS,fontWeight:'bold',fontSize:62,color:'#000'}}
  ],
  grid:grids,xAxis:xAxes,yAxis:yAxes,series:series,graphic:graphics};
const chart=echarts.init(document.getElementById('c'),null,{renderer:'canvas',width:3971,height:2309});
chart.setOption(option);
</script></body></html>
